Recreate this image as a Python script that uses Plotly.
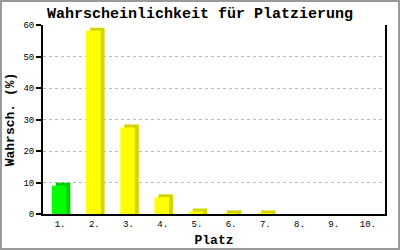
import plotly.graph_objects as go

categories = ["1.", "2.", "3.", "4.", "5.", "6.", "7.", "8.", "9.", "10."]
values = [9.0, 58.2, 27.5, 5.3, 0.8, 0.2, 0.2, 0, 0, 0]
front_colors = ["#00FF00"] + ["#FFFF00"] * 9
side_colors = ["#00CC00"] + ["#D4D400"] * 9
y_ticks = [0, 10, 20, 30, 40, 50, 60]

W, H = 400, 250
L, R, T, B = 43, 15, 25, 36
pw, ph = W - L - R, H - T - B
ymax = 60
cat_px = pw / len(categories)
dx = 4 / cat_px            # depth offset in category units
dy = 3 * ymax / ph         # depth offset in value units
bw = 14.5 / cat_px
off = -8.2 / cat_px

depth = [v + dy if v > 0 else 0 for v in values]

fig = go.Figure()
fig.add_trace(go.Bar(x=categories, y=depth, base=0, width=bw, offset=off + dx,
                     marker=dict(color=side_colors, line=dict(width=0)),
                     hoverinfo="skip", showlegend=False))
fig.add_trace(go.Bar(x=categories, y=values, width=bw, offset=off,
                     marker=dict(color=front_colors, line=dict(width=0)),
                     showlegend=False))

mono = "Liberation Mono"
fig.update_layout(
    width=W, height=H, barmode="overlay",
    margin=dict(l=L, r=R, t=T, b=B, pad=0, autoexpand=False),
    paper_bgcolor="white", plot_bgcolor="white",
    title=dict(text="<b>Wahrscheinlichkeit für Platzierung</b>",
               x=0.5, xref="container", xanchor="center",
               y=1 - 13 / H, yref="container", yanchor="middle",
               font=dict(family=mono, size=15, color="black")),
    xaxis=dict(type="category", range=[-0.5, len(categories) - 0.5],
               showline=True, linecolor="black", linewidth=2,
               ticks="", showgrid=False, zeroline=False, automargin=False,
               tickfont=dict(family=mono, size=9, color="black"),
               title=dict(text="<b>Platz</b>", standoff=6,
                          font=dict(family=mono, size=13, color="black"))),
    yaxis=dict(range=[0, ymax], tickvals=y_ticks, automargin=False,
               showline=True, linecolor="black", linewidth=2, mirror=True,
               ticks="outside", ticklen=5, tickwidth=2, tickcolor="black",
               showgrid=True, gridcolor="#BBBBBB", griddash="3px,3px", gridwidth=1,
               zeroline=False,
               tickfont=dict(family=mono, size=9, color="black"),
               title=dict(text="<b>Wahrsch. (%)</b>", standoff=6,
                          font=dict(family=mono, size=13, color="black"))),
)

fig.add_shape(type="rect", xref="paper", yref="paper",
              x0=(1 - L) / pw, x1=(W - 1 - L) / pw,
              y0=-(H - 1 - T - ph) / ph, y1=(ph + T - 1) / ph,
              line=dict(color="#999999", width=2), layer="above")

fig.write_html("out.html")
